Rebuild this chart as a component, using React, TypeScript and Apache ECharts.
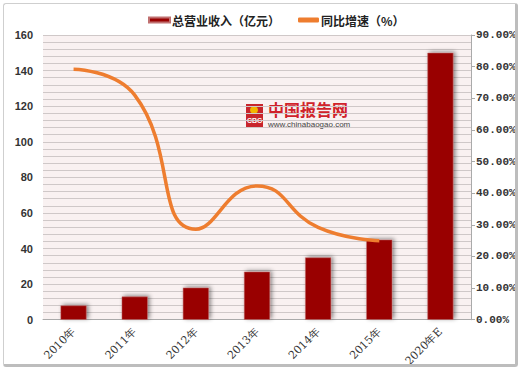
import React, { useEffect, useRef } from "react";
import * as echarts from "echarts";

const categories = ["2010年", "2011年", "2012年", "2013年", "2014年", "2015年", "2020年E"];
const revenue = [8, 13, 18, 27, 35, 45, 150];
const growth = [79.2, 71.0, 28.6, 42.3, 29.2, 25.0, null];
const leftTicks = { min: 0, max: 160, interval: 20 };
const rightTicks = { min: 0, max: 90, interval: 10 };

export default function App() {
  const ref = useRef<HTMLDivElement>(null);
  useEffect(() => {
    if (!ref.current) return;
    const chart = echarts.init(ref.current, undefined, { renderer: "svg" });
    chart.setOption({
      animation: false,
      backgroundColor: "#ffffff",
      legend: {
        top: 9,
        left: 143,
        itemGap: 18,
        itemWidth: 21,
        itemHeight: 5,
        textStyle: {
          fontFamily: "Noto Sans CJK SC",
          fontWeight: "bold",
          fontSize: 12,
          color: "#222",
          padding: [0, 0, 0, -3],
        },
        data: [
          { name: "总营业收入（亿元）", icon: "rect" },
          { name: "同比增速（%）", icon: "roundRect", itemStyle: { color: "#ee7d2f" } },
        ],
      },
      grid: { left: 43, right: 49, top: 35, bottom: 48, show: true, backgroundColor: "#f9f1f1", borderWidth: 0 },
      xAxis: {
        type: "category",
        data: categories,
        axisLine: { show: true, lineStyle: { color: "#aaaaaa" } },
        axisTick: { show: false },
        axisLabel: { rotate: 45, fontSize: 11, color: "#333", fontFamily: "DejaVu Serif", margin: 10 },
      },
      yAxis: [
        {
          type: "value",
          ...leftTicks,
          axisLine: { show: false },
          axisTick: { show: false },
          axisLabel: { fontSize: 11, fontWeight: "bold", color: "#333", fontFamily: "Liberation Sans", margin: 10 },
          splitLine: { show: true, lineStyle: { color: "#cfc8c8", width: 1 } },
          minorTick: { show: false, splitNumber: 5 },
          minorSplitLine: { show: true, lineStyle: { color: "#cfc8c8", width: 1 } },
        },
        {
          type: "value",
          ...rightTicks,
          position: "right",
          axisLine: { show: true, lineStyle: { color: "#aaaaaa" } },
          axisTick: { show: true, length: 4, lineStyle: { color: "#aaaaaa" } },
          axisLabel: {
            fontSize: 11,
            fontWeight: "bold",
            color: "#333",
            fontFamily: "Liberation Mono",
            margin: 5,
            formatter: (v: number) => v.toFixed(2) + "%",
          },
          splitLine: { show: false },
        },
      ],
      series: [
        {
          name: "总营业收入（亿元）",
          type: "bar",
          data: revenue,
          barWidth: 26,
          yAxisIndex: 0,
          itemStyle: {
            color: "#990000",
            borderColor: "#c07070",
            borderWidth: 0.5,
            shadowColor: "rgba(0,0,0,0.45)",
            shadowBlur: 4,
            shadowOffsetX: 2,
            shadowOffsetY: -1,
          },
        },
        {
          name: "同比增速（%）",
          type: "line",
          data: growth,
          yAxisIndex: 1,
          smooth: 0.5,
          symbol: "none",
          lineStyle: { color: "#ee7d2f", width: 3.5 },
          itemStyle: { color: "#ee7d2f" },
        },
      ],
      graphic: [
        { type: "rect", left: 246, top: 104, shape: { width: 17, height: 24 }, style: { fill: "#c8252c" } },
        { type: "text", left: 247, top: 117, style: { text: "CBG", fill: "#fff", font: "bold 7px Liberation Sans" } },
        { type: "circle", left: 250, top: 106, shape: { r: 4 }, style: { fill: "#f2b400" } },
        { type: "text", left: 268, top: 101, style: { text: "中国报告网", fill: "#d0222a", font: "bold 16px 'Noto Sans CJK SC'" } },
        { type: "text", left: 268, top: 120, style: { text: "www.chinabaogao.com", fill: "#444", font: "8px Liberation Sans" } },
      ],
    });
    return () => chart.dispose();
  }, []);
  return (
    <div style={{ position: "absolute", left: 0, top: 0, width: 520, height: 369, background: "#fff" }}>
      <div ref={ref} style={{ position: "absolute", left: 0, top: 0, width: 520, height: 369 }} />
      <div
        style={{
          position: "absolute",
          left: 3,
          top: 3,
          width: 511,
          height: 360,
          border: "1px solid #cfcfcf",
          borderRight: "3px solid #bdbdbd",
          borderBottom: "3px solid #bdbdbd",
          borderRadius: 3,
          pointerEvents: "none",
        }}
      />
    </div>
  );
}
